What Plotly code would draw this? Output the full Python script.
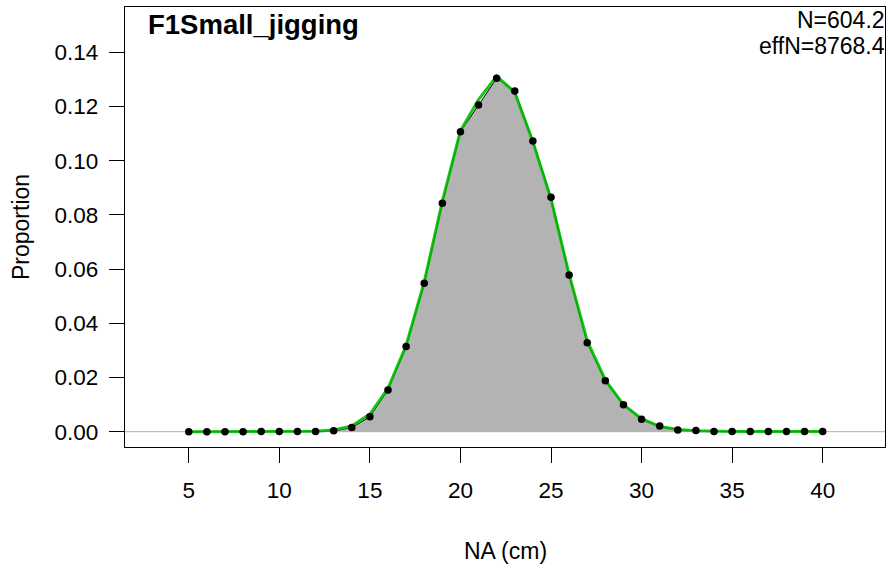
import plotly.graph_objects as go

# Length bins (cm)
lengths = list(range(5, 41))

# Observed proportions at length
observed = [0.0, 0.0, 0.0, 0.0, 0.0001, 0.0001, 0.0001, 0.0001, 0.0003, 0.0015,
            0.0055, 0.0154, 0.0314, 0.0548, 0.0843, 0.1107, 0.1205, 0.1304, 0.1257, 0.1073,
            0.0865, 0.0578, 0.0328, 0.0188, 0.0099, 0.0046, 0.0021, 0.0006, 0.0004, 0.0001,
            0.0001, 0.0001, 0.0001, 0.0001, 0.0001, 0.0001]

# Expected (fitted) proportions at length
expected = [0.0, 0.0, 0.0, 0.0001, 0.0001, 0.0001, 0.0001, 0.0002, 0.0006, 0.0021,
            0.0065, 0.0160, 0.0318, 0.0552, 0.0850, 0.1110, 0.1225, 0.1312, 0.1252, 0.1070,
            0.0858, 0.0580, 0.0335, 0.0190, 0.0100, 0.0048, 0.0019, 0.0008, 0.0003, 0.0001,
            0.0001, 0.0001, 0.0001, 0.0001, 0.0001, 0.0001]

x_ticks = [5, 10, 15, 20, 25, 30, 35, 40]
y_ticks = [0.00, 0.02, 0.04, 0.06, 0.08, 0.10, 0.12, 0.14]

fleet_name = "F1Small_jigging"
n_text = "N=604.2"
effn_text = "effN=8768.4"

FONT = "Liberation Sans, Arial, sans-serif"

fig = go.Figure()

# Observed composition as a filled polygon
fig.add_trace(go.Scatter(
    x=[lengths[0]] + lengths + [lengths[-1]],
    y=[0] + observed + [0],
    mode="lines", fill="toself", fillcolor="#B3B3B3",
    line=dict(color="black", width=1),
    hoverinfo="skip", showlegend=False,
))

# Expected composition
fig.add_trace(go.Scatter(
    x=lengths, y=expected, mode="lines",
    line=dict(color="rgba(0,190,0,0.9)", width=3),
    showlegend=False,
))

# Observed points
fig.add_trace(go.Scatter(
    x=lengths, y=observed, mode="markers",
    marker=dict(color="black", size=7.5),
    showlegend=False,
))

fig.add_shape(type="line", xref="paper", x0=0, x1=1, yref="y", y0=0, y1=0,
              line=dict(color="#BEBEBE", width=1.2), layer="below")

axis_common = dict(
    showgrid=False, zeroline=False, showline=True, mirror=True,
    linecolor="black", linewidth=1.3,
    ticks="outside", ticklen=15, tickwidth=1.3, tickcolor="black",
    tickfont=dict(family=FONT, size=22.5, color="black"),
)

fig.update_xaxes(range=[1.48, 43.44], tickmode="array", tickvals=x_ticks,
                 ticklabelstandoff=8, **axis_common)
fig.update_yaxes(range=[-0.00565, 0.1567], tickmode="array", tickvals=y_ticks,
                 tickformat=".2f", ticklabelstandoff=6, **axis_common)

fig.update_layout(
    width=888, height=568,
    margin=dict(l=125, r=3, t=7, b=121),
    paper_bgcolor="white", plot_bgcolor="white",
    font=dict(family=FONT, color="black"),
    annotations=[
        dict(text=f"<b>{fleet_name}</b>", xref="paper", yref="paper", x=0, y=1,
             xanchor="left", yanchor="top", xshift=21, yshift=0,
             showarrow=False, font=dict(size=27.5, family=FONT)),
        dict(text=n_text, xref="paper", yref="paper", x=1, y=1,
             xanchor="right", yanchor="top", xshift=2, yshift=2,
             showarrow=False, font=dict(size=23, family=FONT)),
        dict(text=effn_text, xref="paper", yref="paper", x=1, y=1,
             xanchor="right", yanchor="top", xshift=2, yshift=-24,
             showarrow=False, font=dict(size=23, family=FONT)),
        dict(text="NA (cm)", xref="paper", yref="paper", x=0.5, y=0,
             xanchor="center", yanchor="middle", yshift=-104,
             showarrow=False, font=dict(size=23, family=FONT)),
        dict(text="Proportion", xref="paper", yref="paper", x=0, y=0.5,
             xanchor="center", yanchor="middle", xshift=-104, textangle=-90,
             showarrow=False, font=dict(size=23, family=FONT)),
    ],
)

fig.write_html("out.html")
